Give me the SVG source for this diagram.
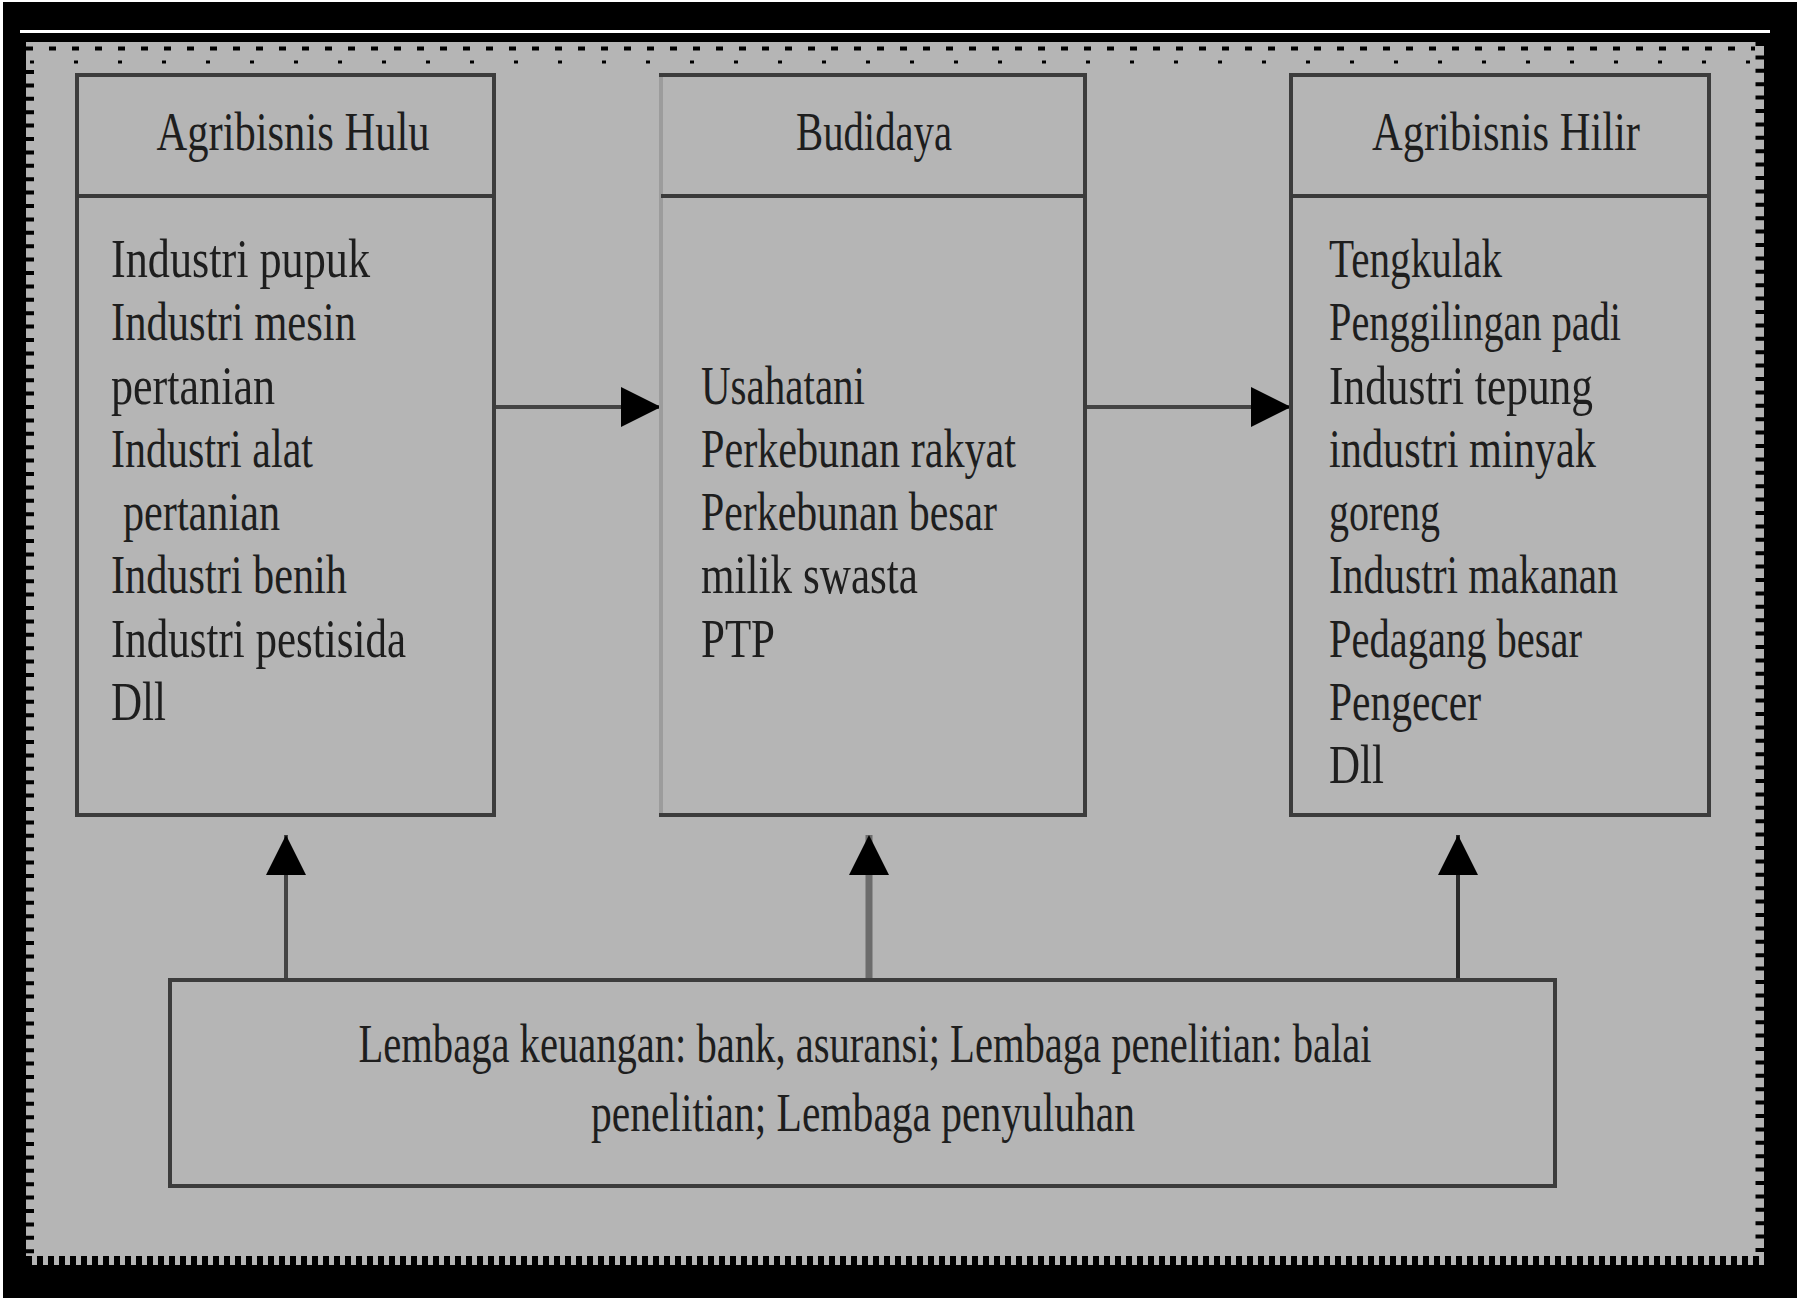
<svg xmlns="http://www.w3.org/2000/svg" width="1797" height="1298" viewBox="0 0 1797 1298">
  <defs>
    <style>
      .box { fill: none; stroke: #3c3c3c; stroke-width: 4; }
      .sep { stroke: #3a3a3a; stroke-width: 4; }
      .t { font-family: "Liberation Serif", "Times New Roman", serif; font-size: 54px; fill: #1e1e1e; }
      .h { text-anchor: middle; }
      .conn { fill: none; stroke: #444; stroke-width: 4; }
    </style>
    <marker id="ah" viewBox="0 0 40 40" refX="40" refY="20" markerWidth="40" markerHeight="40" markerUnits="userSpaceOnUse" orient="auto">
      <path d="M0,0 L40,20 L0,40 Z" fill="#000"/>
    </marker>
  </defs>

  <!-- frame -->
  <rect x="0" y="0" width="1797" height="1298" fill="#000"/>
  <rect x="0" y="0" width="1797" height="2" fill="#fff"/>
  <rect x="0" y="0" width="3" height="1298" fill="#fff"/>
  <rect x="20" y="30" width="1750" height="3" fill="#fff"/>
  <rect x="26" y="42" width="1738" height="1223" fill="#b5b5b5"/>
  <!-- dotted borders -->
  <line x1="26" y1="48.5" x2="1755" y2="48.5" stroke="#000" stroke-width="4" stroke-dasharray="7 16"/>
  <line x1="30" y1="62" x2="1755" y2="62" stroke="#000" stroke-width="3" stroke-dasharray="4 40"/>
  <line x1="30" y1="70" x2="30" y2="1256" stroke="#000" stroke-width="8" stroke-dasharray="4 9.4"/>
  <line x1="1760" y1="42" x2="1760" y2="1256" stroke="#000" stroke-width="9" stroke-dasharray="4 9.4"/>
  <line x1="26" y1="1260.5" x2="1764" y2="1260.5" stroke="#000" stroke-width="9" stroke-dasharray="6 5"/>

  <!-- connectors -->
  <g id="connectors">
    <path class="conn" d="M494,407 L661,407" marker-end="url(#ah)"/>
    <path class="conn" d="M1085,407 L1291,407" marker-end="url(#ah)"/>
    <path class="conn" d="M286,980 L286,835" stroke="#3a3a3a" stroke-width="3" marker-end="url(#ah)"/>
    <path class="conn" d="M869,980 L869,835" style="stroke:#6c6c6c;stroke-width:7" marker-end="url(#ah)"/>
    <path class="conn" d="M1458,980 L1458,835" style="stroke:#2a2a2a;stroke-width:4" marker-end="url(#ah)"/>
  </g>

  <!-- Agribisnis Hulu -->
  <g id="hulu">
    <rect class="box" x="77" y="75" width="417" height="740"/>
    <line class="sep" x1="77" y1="196" x2="494" y2="196"/>
    <text class="t h" x="293" y="150" textLength="273" lengthAdjust="spacingAndGlyphs">Agribisnis Hulu</text>
    <text class="t" x="111" y="277" textLength="259" lengthAdjust="spacingAndGlyphs">Industri pupuk</text>
    <text class="t" x="111" y="340" textLength="245" lengthAdjust="spacingAndGlyphs">Industri mesin</text>
    <text class="t" x="111" y="404" textLength="164" lengthAdjust="spacingAndGlyphs">pertanian</text>
    <text class="t" x="111" y="467" textLength="202" lengthAdjust="spacingAndGlyphs">Industri alat</text>
    <text class="t" x="123" y="530" textLength="157" lengthAdjust="spacingAndGlyphs">pertanian</text>
    <text class="t" x="111" y="593" textLength="236" lengthAdjust="spacingAndGlyphs">Industri benih</text>
    <text class="t" x="111" y="657" textLength="295" lengthAdjust="spacingAndGlyphs">Industri pestisida</text>
    <text class="t" x="111" y="720" textLength="55" lengthAdjust="spacingAndGlyphs">Dll</text>
  </g>

  <!-- Budidaya -->
  <g id="budidaya">
    <rect class="box" x="661" y="75" width="424" height="740"/>
    <line x1="661" y1="77" x2="661" y2="813" stroke="#9c9c9c" stroke-width="4"/>
    <line class="sep" x1="661" y1="196" x2="1085" y2="196"/>
    <text class="t h" x="874" y="150" textLength="156" lengthAdjust="spacingAndGlyphs">Budidaya</text>
    <text class="t" x="701" y="404" textLength="164" lengthAdjust="spacingAndGlyphs">Usahatani</text>
    <text class="t" x="701" y="467" textLength="315" lengthAdjust="spacingAndGlyphs">Perkebunan rakyat</text>
    <text class="t" x="701" y="530" textLength="296" lengthAdjust="spacingAndGlyphs">Perkebunan besar</text>
    <text class="t" x="701" y="593" textLength="217" lengthAdjust="spacingAndGlyphs">milik swasta</text>
    <text class="t" x="701" y="657" textLength="74" lengthAdjust="spacingAndGlyphs">PTP</text>
  </g>

  <!-- Agribisnis Hilir -->
  <g id="hilir">
    <rect class="box" x="1291" y="75" width="418" height="740"/>
    <line class="sep" x1="1291" y1="196" x2="1709" y2="196"/>
    <text class="t h" x="1506" y="150" textLength="268" lengthAdjust="spacingAndGlyphs">Agribisnis Hilir</text>
    <text class="t" x="1329" y="277" textLength="173" lengthAdjust="spacingAndGlyphs">Tengkulak</text>
    <text class="t" x="1329" y="340" textLength="292" lengthAdjust="spacingAndGlyphs">Penggilingan padi</text>
    <text class="t" x="1329" y="404" textLength="264" lengthAdjust="spacingAndGlyphs">Industri tepung</text>
    <text class="t" x="1329" y="467" textLength="267" lengthAdjust="spacingAndGlyphs">industri minyak</text>
    <text class="t" x="1329" y="530" textLength="111" lengthAdjust="spacingAndGlyphs">goreng</text>
    <text class="t" x="1329" y="593" textLength="289" lengthAdjust="spacingAndGlyphs">Industri makanan</text>
    <text class="t" x="1329" y="657" textLength="253" lengthAdjust="spacingAndGlyphs">Pedagang besar</text>
    <text class="t" x="1329" y="720" textLength="152" lengthAdjust="spacingAndGlyphs">Pengecer</text>
    <text class="t" x="1329" y="783" textLength="55" lengthAdjust="spacingAndGlyphs">Dll</text>
  </g>

  <!-- Lembaga -->
  <g id="lembaga">
    <rect class="box" x="170" y="980" width="1385" height="206"/>
    <text class="t h" x="865" y="1062" textLength="1013" lengthAdjust="spacingAndGlyphs">Lembaga keuangan: bank, asuransi; Lembaga penelitian: balai</text>
    <text class="t h" x="863" y="1131" textLength="544" lengthAdjust="spacingAndGlyphs">penelitian; Lembaga penyuluhan</text>
  </g>
</svg>
